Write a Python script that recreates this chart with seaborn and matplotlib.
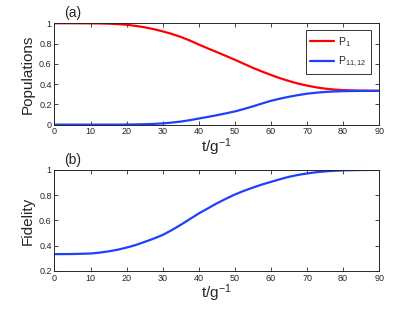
import numpy as np
import pandas as pd
import matplotlib
matplotlib.use("Agg")
import matplotlib.pyplot as plt
import seaborn as sns

# values
t = [0, 5, 10, 12.5, 15, 17.5, 20, 22.5, 25, 27.5, 30, 32.5, 35, 37.5, 40,
     42.5, 45, 47.5, 50, 52.5, 55, 57.5, 60, 62.5, 65, 67.5, 70, 72.5, 75,
     77.5, 80, 85, 90]
p1 = [1.0, 1.0, 0.999, 0.998, 0.996, 0.992, 0.985, 0.974, 0.96, 0.942, 0.92,
      0.895, 0.865, 0.83, 0.79, 0.752, 0.715, 0.678, 0.64, 0.6, 0.56, 0.524,
      0.49, 0.458, 0.43, 0.405, 0.385, 0.368, 0.355, 0.346, 0.34, 0.335, 0.333]
p11_12 = [0.0, 0.0, 0.0, 0.0, 0.0, 0.0, 0.001, 0.002, 0.004, 0.007, 0.012,
          0.02, 0.03, 0.044, 0.06, 0.076, 0.093, 0.111, 0.13, 0.154, 0.18,
          0.208, 0.235, 0.256, 0.275, 0.291, 0.305, 0.315, 0.322, 0.327,
          0.33, 0.333, 0.333]
fidelity = [0.333, 0.334, 0.338, 0.345, 0.355, 0.368, 0.385, 0.405, 0.43,
            0.456, 0.485, 0.523, 0.565, 0.61, 0.655, 0.695, 0.735, 0.771,
            0.805, 0.834, 0.86, 0.884, 0.905, 0.926, 0.945, 0.96, 0.972,
            0.981, 0.988, 0.993, 0.996, 0.999, 1.0]

pop = pd.DataFrame({"t": t * 2,
                    "value": p1 + p11_12,
                    "series": ["P$_1$"] * len(t) + ["P$_{11,12}$"] * len(t)})
fid = pd.DataFrame({"t": t, "fidelity": fidelity})

sns.set_style("ticks")
plt.rcParams["font.family"] = ["Liberation Sans", "DejaVu Sans"]
plt.rcParams["mathtext.fontset"] = "custom"
plt.rcParams["mathtext.rm"] = "Liberation Sans"
plt.rcParams["mathtext.it"] = "Liberation Sans"

fig = plt.figure(figsize=(4.19, 3.10), dpi=100)
ax1 = fig.add_axes([0.130, 0.598, 0.775, 0.327])
ax2 = fig.add_axes([0.130, 0.126, 0.775, 0.326])

sns.lineplot(data=pop, x="t", y="value", hue="series",
             palette=["#ff0000", "#1f3fff"], linewidth=1.6, ax=ax1)
sns.lineplot(data=fid, x="t", y="fidelity", color="#1f3fff",
             linewidth=1.6, ax=ax2)

ax1.set_ylim(0, 1)
ax1.set_yticks([0, 0.2, 0.4, 0.6, 0.8, 1])
ax1.set_yticklabels(["0", "0.2", "0.4", "0.6", "0.8", "1"])
ax1.set_ylabel("Populations", fontsize=11, labelpad=3)
ax2.set_ylim(0.2, 1)
ax2.set_yticks([0.2, 0.4, 0.6, 0.8, 1])
ax2.set_yticklabels(["0.2", "0.4", "0.6", "0.8", "1"])
ax2.set_ylabel("Fidelity", fontsize=11, labelpad=3)

for ax, tag in [(ax1, "(a)"), (ax2, "(b)")]:
    ax.set_xlim(0, 90)
    ax.set_xticks(range(0, 91, 10))
    ax.set_xlabel("t/g$^{-1}$", fontsize=11, labelpad=0)
    ax.tick_params(direction="in", length=3, width=0.6, labelsize=6.5,
                   top=True, right=True, pad=2)
    for s in ax.spines.values():
        s.set_visible(True)
        s.set_linewidth(0.7)
    ax.text(0.03, 1.03, tag, transform=ax.transAxes, fontsize=10,
            ha="left", va="bottom")

leg = ax1.legend(loc="upper right", bbox_to_anchor=(0.975, 0.93),
                 fontsize=7.5, frameon=True, fancybox=False, edgecolor="black",
                 handlelength=2.3, borderpad=0.45, labelspacing=0.6,
                 handletextpad=0.4, borderaxespad=0)
leg.get_frame().set_linewidth(0.7)

fig.savefig("out.png", dpi=100)
